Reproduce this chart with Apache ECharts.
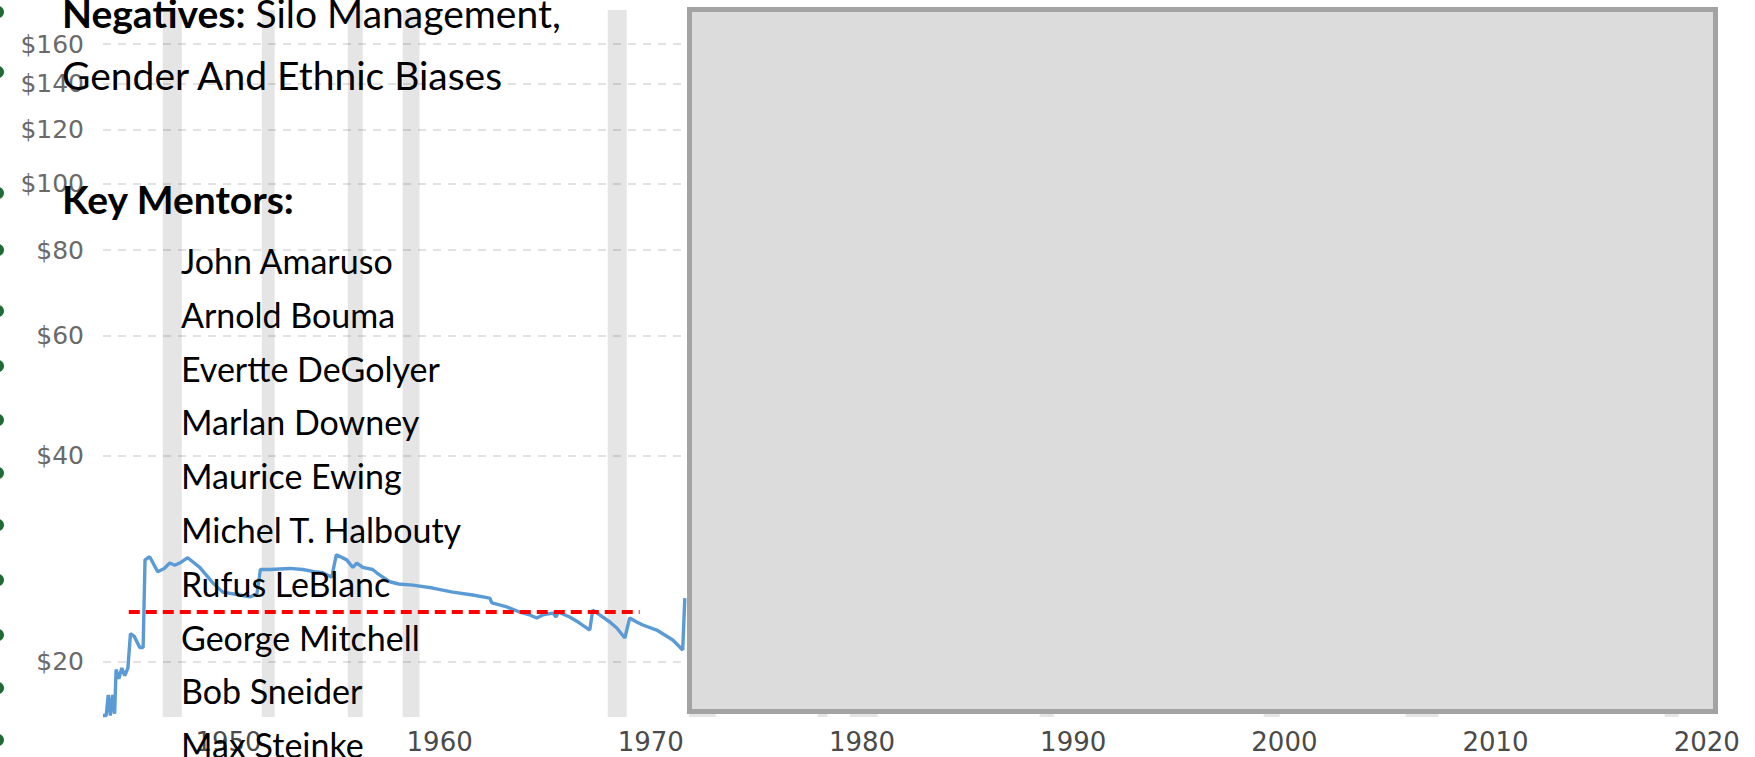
<!DOCTYPE html>
<html><head><meta charset="utf-8">
<script src="https://cdn.jsdelivr.net/npm/echarts@6/dist/echarts.min.js"></script>
<style>html,body{margin:0;padding:0;background:#fff;}#c{width:1755px;height:757px;}</style>
</head><body><div id="c"></div>
<script>
// ---- data ----
const years = [1946.00,1946.15,1946.25,1946.35,1946.45,1946.55,1946.62,1946.75,1946.89,1947.03,1947.18,1947.30,1947.48,1947.74,1947.90,1947.99,1948.21,1948.59,1948.90,1949.16,1949.40,1949.63,1950.01,1950.58,1951.20,1951.67,1952.33,1952.95,1953.28,1953.40,1953.45,1953.90,1954.84,1955.46,1956.00,1956.41,1956.83,1957.05,1957.54,1957.70,1957.83,1958.02,1958.30,1958.77,1958.96,1959.25,1959.58,1960.00,1960.67,1961.61,1962.56,1963.51,1964.31,1964.42,1965.12,1965.73,1966.21,1966.54,1966.82,1967.30,1967.45,1967.55,1968.10,1968.57,1969.05,1969.19,1969.52,1970.00,1970.33,1970.71,1970.94,1971.27,1971.56,1972.22,1972.98,1973.45,1973.55];
const prices = [16.7,16.7,17.9,16.7,17.9,16.8,19.5,18.9,19.6,19.1,19.6,22.0,21.8,21.0,21.0,28.2,28.5,27.1,27.4,27.9,27.7,27.9,28.4,27.5,26.1,25.3,25.1,24.9,25.1,26.5,27.3,27.3,27.4,27.3,27.1,27.0,26.6,28.7,28.2,27.8,27.5,27.9,27.5,27.3,27.0,26.6,26.2,26.0,25.9,25.65,25.3,25.06,24.8,24.4,24.07,23.66,23.43,23.19,23.43,23.58,23.27,23.66,23.27,22.8,22.27,23.82,23.43,22.88,22.42,21.68,23.19,22.88,22.65,22.27,21.54,20.82,24.8];
const recessions = [[1948.83,1949.73],[1953.52,1954.13],[1957.59,1958.30],[1960.19,1960.99],[1969.90,1970.80],[1973.74,1975.02],[1979.84,1980.31],[1981.36,1982.68],[1990.35,1991.02],[2000.96,2001.72],[2007.68,2009.24],[2019.95,2020.61]];
const yTickValues = [20,40,60,80,100,120,140,160];
const xTickValues = [1950,1960,1970,1980,1990,2000,2010,2020];
const refLineYears = [1947.22,1971.41];
const refLineValue = 23.66;
const headingLabel = 'Negatives:';
const headingText1 = ' Silo Management,';
const headingText2 = 'Gender And Ethnic Biases';
const mentorsTitle = 'Key Mentors:';
const mentors = ['John Amaruso','Arnold Bouma','Evertte DeGolyer','Marlan Downey','Maurice Ewing','Michel T. Halbouty','Rufus LeBlanc','George Mitchell','Bob Sneider','Max Steinke'];

// ---- layout ----
const FONT = 'Lato';
const HS = 39, NS = 34;
const nameBaselines = [273,327,381,434,488,542,596,650,703,757];
const bulletYs = [12,72,193,250,311,366,420,473,525,580,635,688,740];

function txt(text, x, baseline, size, bold, rich) {
  return {
    type: 'text', z: 110, silent: true,
    style: {
      text: text, x: x, y: baseline - 0.36 * size,
      fontFamily: FONT, fontSize: size, fontWeight: bold ? 'bold' : 'normal',
      fill: '#000', verticalAlign: 'middle', align: 'left',
      rich: rich
    }
  };
}

const graphics = [];
graphics.push({
  type: 'rect', z: 100, silent: true,
  shape: {x: 689.5, y: 9.5, width: 1026, height: 702},
  style: {fill: '#dcdcdc', stroke: '#a3a3a3', lineWidth: 5}
});
graphics.push(txt('{b|' + headingLabel + '}' + headingText1, 62, 27, HS, false,
  {b: {fontFamily: FONT, fontSize: HS, fontWeight: 'bold', fill: '#000'}}));
graphics.push(txt(headingText2, 62, 89, HS, false));
graphics.push(txt(mentorsTitle, 62, 213, HS, true));
mentors.forEach((m, i) => graphics.push(txt(m, 181, nameBaselines[i], NS, false)));
bulletYs.forEach(y => graphics.push({
  type: 'circle', z: 110, silent: true,
  shape: {cx: -2, cy: y, r: 6}, style: {fill: '#1f6b36'}
}));

const chart = echarts.init(document.getElementById('c'), null, {renderer: 'svg'});
chart.setOption({
  animation: false,
  backgroundColor: '#ffffff',
  grid: {left: 103, right: 47, top: 10, bottom: 40},
  xAxis: {
    type: 'value', min: 1946, max: 2022,
    axisLine: {show: false}, axisTick: {show: false}, splitLine: {show: false},
    axisLabel: {
      show: true,
      customValues: xTickValues, formatter: v => String(Math.round(v)),
      color: '#4a4a4a', fontFamily: 'DejaVu Sans', fontSize: 26,
      padding: [0, 0, 0, 82], margin: 12
    }
  },
  yAxis: {
    type: 'log', logBase: 10, min: 16.62, max: 179.4,
    axisLine: {show: false},
    axisTick: {show: false, customValues: yTickValues},
    axisLabel: {
      show: true,
      customValues: yTickValues, formatter: v => '$' + Math.round(v),
      color: '#6a6a6a', fontFamily: 'DejaVu Sans', fontSize: 25, margin: 19
    },
    splitLine: {show: true, lineStyle: {color: '#e2e2e2', width: 2, type: [8, 7]}}
  },
  series: [
    {
      type: 'line', name: 'Crude Oil Price', z: 3,
      data: years.map((y, i) => [y, prices[i]]),
      showSymbol: false, symbol: 'none',
      lineStyle: {color: '#5b9bd5', width: 3.4},
      itemStyle: {color: '#5b9bd5'},
      markArea: {
        silent: true,
        itemStyle: {color: 'rgba(0,0,0,0.1)'},
        data: recessions.map(r => [{xAxis: r[0]}, {xAxis: r[1]}])
      }
    },
    {
      type: 'line', name: 'Reference', z: 4,
      data: refLineYears.map(y => [y, refLineValue]),
      showSymbol: false, symbol: 'none',
      lineStyle: {color: '#ff0000', width: 4, type: [11, 6]}
    }
  ],
  graphic: graphics
});
</script></body></html>
